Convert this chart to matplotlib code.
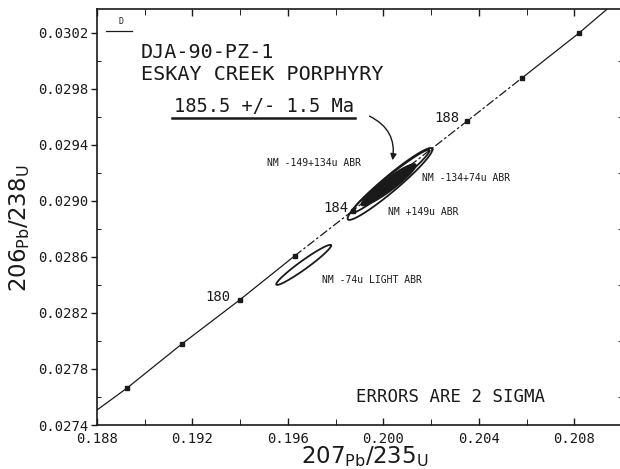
import numpy as np
import matplotlib
matplotlib.use("Agg")
import matplotlib.pyplot as plt

# ---- data ----
concordia_ages = [176, 178, 180, 182, 184, 186, 188, 190, 192]
concordia_x = [0.18926, 0.19156, 0.19398, 0.19628, 0.19871, 0.20110, 0.20352, 0.20582, 0.20821]
concordia_y = [0.027664, 0.027979, 0.028293, 0.028607, 0.028929, 0.029250, 0.029571, 0.029879, 0.030200]
line_start = (0.1880, 0.027507)
line_end = (0.20938, 0.030370)

ell_names = ["NM -74u LIGHT ABR", "NM -149+134u ABR", "NM +149u ABR", "NM -134+74u ABR"]
ell_cx = [0.19666, 0.20028, 0.20030, 0.20022]
ell_cy = [0.028543, 0.029121, 0.029139, 0.029115]
ell_sx = [0.00115, 0.001778, 0.001632, 0.001150]
ell_sy = [0.000143, 0.000257, 0.000225, 0.000150]
ell_rho = [0.965, 0.96, 0.975, 0.93]
ell_filled = [False, False, False, True]

xticks = [0.188, 0.192, 0.196, 0.200, 0.204, 0.208]
yticks = [0.0274, 0.0278, 0.0282, 0.0286, 0.0290, 0.0294, 0.0298, 0.0302]

W, H = 620, 469
fig = plt.figure(figsize=(W / 100, H / 100), dpi=100)
ax_l, ax_r, ax_b, ax_t = 97, 622, 425, 9
ax = fig.add_axes([ax_l / W, 1 - ax_b / H, (ax_r - ax_l) / W, (ax_b - ax_t) / H])
ax.set_xlim(0.188, 0.2100)
ax.set_ylim(0.0274, 0.03037)

ink = "#1a1a1a"
mono = "DejaVu Sans Mono"

# concordia line: solid low part, broken middle, solid top
xs = np.array([line_start[0]] + concordia_x + [line_end[0]])
ys = np.array([line_start[1]] + concordia_y + [line_end[1]])
ax.plot(xs[:5], ys[:5], color=ink, lw=0.9)
ax.plot(xs[4:9], ys[4:9], color=ink, lw=0.9, dashes=(7, 2, 2, 2))
ax.plot(xs[8:], ys[8:], color=ink, lw=0.9)
mk = [a != 186 for a in concordia_ages]
ax.plot(np.array(concordia_x)[mk], np.array(concordia_y)[mk], "s", color=ink, ms=3.2, lw=0)

# error ellipses
t = np.linspace(0, 2 * np.pi, 300)
for cx, cy, sx, sy, r, f in zip(ell_cx, ell_cy, ell_sx, ell_sy, ell_rho, ell_filled):
    phi = np.arccos(r)
    ex = cx + sx * np.cos(t)
    ey = cy + sy * np.cos(t - phi)
    if f:
        ax.fill(ex, ey, color=ink, lw=0.8)
    else:
        ax.plot(ex, ey, color=ink, lw=1.3)

# age labels
ax.annotate("180", (concordia_x[2], concordia_y[2]), xytext=(-7, 2), textcoords="offset points",
            ha="right", va="center", fontsize=10, color=ink, family=mono)
ax.annotate("184", (concordia_x[4], concordia_y[4]), xytext=(-3, 2), textcoords="offset points",
            ha="right", va="center", fontsize=10, color=ink, family=mono)
ax.annotate("188", (concordia_x[6], concordia_y[6]), xytext=(-6, 2), textcoords="offset points",
            ha="right", va="center", fontsize=10, color=ink, family=mono)

def px(xp, yp):
    return (xp / W, 1 - yp / H)

# ellipse labels
small = dict(fontsize=7, color=ink, va="center", ha="left", family=mono)
fig.text(*px(322, 280), ell_names[0], **small)
fig.text(*px(267, 163), ell_names[1], **small)
fig.text(*px(388, 212), ell_names[2], **small)
fig.text(*px(422, 178), ell_names[3], **small)

# titles
fig.text(*px(141, 52), "DJA-90-PZ-1", fontsize=14.5, color=ink, va="center", ha="left", family=mono)
fig.text(*px(141, 74), "ESKAY CREEK PORPHYRY", fontsize=14.5, color=ink, va="center", ha="left", family=mono)
fig.text(*px(174, 106), "185.5 +/- 1.5 Ma", fontsize=13.5, color=ink, va="center", ha="left", family=mono)
fig.add_artist(plt.Line2D([172 / W, 355 / W], [1 - 118 / H, 1 - 118 / H], color=ink, lw=1.8))
fig.text(*px(121, 22), "D", fontsize=6, color=ink, va="center", ha="center", family=mono)
fig.add_artist(plt.Line2D([106 / W, 132 / W], [1 - 31 / H, 1 - 31 / H], color=ink, lw=0.9))
fig.text(*px(451, 397), "ERRORS ARE 2 SIGMA", fontsize=12.5, color=ink, va="center", ha="center", family=mono)

# curved arrow
ax.annotate("", xy=px(392, 163), xytext=px(367, 115), xycoords="figure fraction",
            textcoords="figure fraction",
            arrowprops=dict(arrowstyle="-|>", color=ink, lw=1.0, mutation_scale=9,
                            connectionstyle="arc3,rad=-0.4"))

# axes / ticks
ax.set_xticks(xticks)
ax.set_xticklabels([f"{v:.3f}" for v in xticks], family=mono)
ax.set_yticks(yticks)
ax.set_yticklabels([f"{v:.4f}" for v in yticks], family=mono)
ax.set_xticks(np.arange(0.190, 0.2100, 0.004), minor=True)
ax.set_yticks(np.arange(0.0276, 0.0303, 0.0004), minor=True)
ax.tick_params(axis="both", which="major", labelsize=10, colors=ink, width=1)
ax.tick_params(axis="y", which="major", direction="out", length=4, right=True, pad=2)
ax.tick_params(axis="y", which="minor", direction="in", length=3, right=True)
ax.tick_params(axis="x", which="major", direction="in", length=5, top=True, pad=5)
ax.tick_params(axis="x", which="minor", direction="in", length=4, top=True)
for s in ax.spines.values():
    s.set_color(ink)
    s.set_linewidth(1.2)

fig.text(*px(365, 457), r"$\mathsf{207_{Pb}/235_{U}}$", fontsize=16.5, color=ink,
         ha="center", va="center")
fig.text(*px(20, 228), r"$\mathsf{206_{Pb}/238_{U}}$", fontsize=16.5, color=ink,
         ha="center", va="center", rotation=90)

fig.savefig("out.png", dpi=100)
